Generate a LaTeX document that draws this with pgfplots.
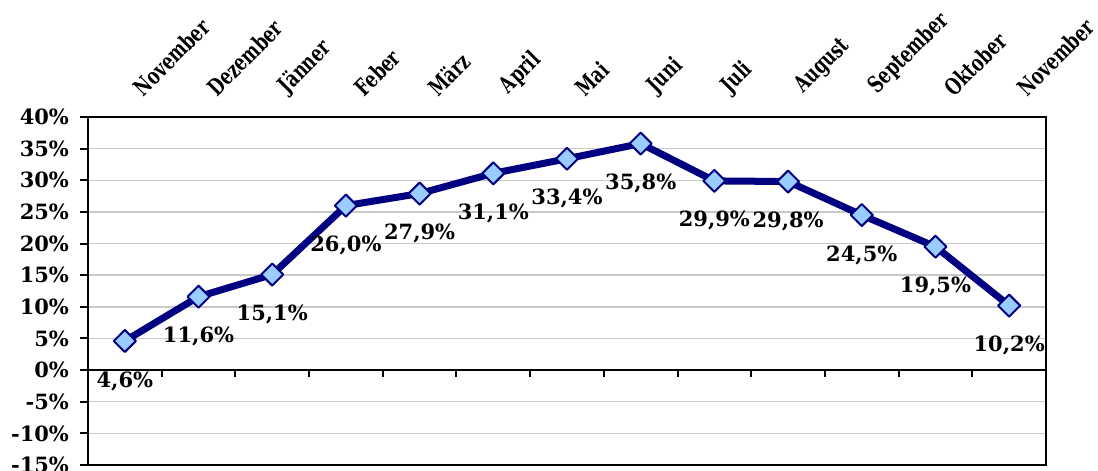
\documentclass[border=0pt]{standalone}
\usepackage{fontspec}
\setmainfont{DejaVu Serif}
\newfontfamily\monthfont[FakeStretch=0.73]{DejaVu Serif}
\usepackage{pgfplots}
\pgfplotsset{compat=1.18}
\usetikzlibrary{calc}
\definecolor{linenavy}{RGB}{0,0,128}
\definecolor{markfill}{RGB}{153,204,255}
\definecolor{gridgray}{RGB}{200,200,200}

\begin{document}
\begin{tikzpicture}[font=\fontsize{10.5}{12}\selectfont\bfseries]

% main axis: frame, grid, y labels, month names on top
\begin{axis}[
  name=main,
  scale only axis,
  width=479pt, height=174pt,
  xmin=-0.5, xmax=12.5,
  ymin=-15, ymax=40,
  xtick={0,...,12},
  xticklabels={November,Dezember,Jänner,Feber,März,April,Mai,Juni,Juli,August,September,Oktober,November},
  xticklabel pos=upper,
  xticklabel style={font=\monthfont\fontsize{11.5}{12}\selectfont\bfseries,
    anchor=south west, inner sep=0pt, xshift=9.5pt, yshift=5.5pt, rotate=45},
  major x tick style={draw=none},
  ytick={-15,-10,...,40},
  yticklabels={-15\%,-10\%,-5\%,0\%,5\%,10\%,15\%,20\%,25\%,30\%,35\%,40\%},
  yticklabel style={xshift=-2pt},
  ytick pos=left,
  tick align=outside,
  major tick length=4pt,
  major y tick style={black, line width=1pt},
  ymajorgrids,
  grid style={gridgray, line width=0.7pt},
  axis line style={black, line width=1pt},
  clip=false,
]
\addplot[linenavy, line width=3.5pt, line join=round,
  mark=square*, mark size=3.9pt,
  mark options={rotate=45, fill=markfill, draw=linenavy, line width=1pt},
  nodes near coords, point meta=explicit symbolic,
  nodes near coords style={anchor=center, yshift=-20pt, text=black}]
coordinates {
  (0,4.6)  [4,6\%]
  (1,11.6) [11,6\%]
  (2,15.1) [15,1\%]
  (3,26.0) [26,0\%]
  (4,27.9) [27,9\%]
  (5,31.1) [31,1\%]
  (6,33.4) [33,4\%]
  (7,35.8) [35,8\%]
  (8,29.9) [29,9\%]
  (9,29.8) [29,8\%]
  (10,24.5) [24,5\%]
  (11,19.5) [19,5\%]
  (12,10.2) [10,2\%]
};
\end{axis}

% zero line with ticks between the months
\begin{axis}[
  scale only axis,
  width=479pt, height=174pt,
  xmin=-0.5, xmax=12.5,
  ymin=-15, ymax=40,
  axis x line=middle, axis y line=none,
  x axis line style={-, black, line width=1pt},
  xtick={0.5,1.5,...,11.5}, xticklabels={},
  tick align=outside,
  major tick length=3.5pt,
  major x tick style={black, line width=1pt},
]
\end{axis}

\pgfresetboundingbox
\path[use as bounding box] ($(main.south west)+(-44pt,-3pt)$) rectangle ($(main.north east)+(26pt,58.5pt)$);
\end{tikzpicture}
\end{document}
